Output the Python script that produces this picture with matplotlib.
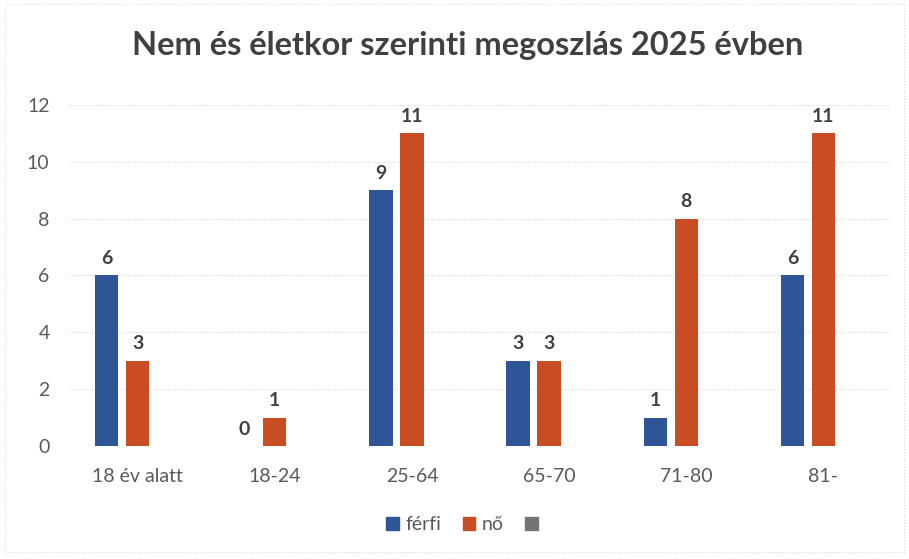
import numpy as np
import matplotlib.pyplot as plt
from matplotlib.patches import Rectangle

# ── data ────────────────────────────────────────────────────────────────
categories = ["18 év alatt", "18-24", "25-64", "65-70", "71-80", "81-"]
ferfi = [6, 0, 9, 3, 1, 6]
no = [3, 1, 11, 3, 8, 11]
harmadik = [np.nan] * 6          # empty third series (gray in legend)
series_names = ["férfi", "nő", ""]

BLUE = "#2f5597"
ORANGE = "#c94c22"
GRAY = "#737373"
TEXT = "#595959"

plt.rcParams["font.family"] = ["Lato", "DejaVu Sans"]

fig = plt.figure(figsize=(9.09, 5.59), dpi=100)
ax = fig.add_axes([0.0759, 0.2022, 0.9054, 0.6100])

x = np.arange(len(categories))
w = 0.17
off = 0.226
b1 = ax.bar(x - off, ferfi, w, color=BLUE, zorder=3)
b2 = ax.bar(x, no, w, color=ORANGE, zorder=3)
b3 = ax.bar(x + off, harmadik, w, color=GRAY, zorder=3)

for bars, vals in ((b1, ferfi), (b2, no)):
    for r, v in zip(bars, vals):
        ax.annotate(str(v), (r.get_x() + r.get_width() / 2, v), xytext=(0, 6),
                    textcoords="offset points", ha="center", va="bottom",
                    fontsize=14, fontweight="bold", color="#404040")

ax.set_xlim(-0.5, len(categories) - 0.5)
ax.set_ylim(0, 12)
ax.set_yticks(range(0, 13, 2))
ax.set_xticks(x)
ax.set_xticklabels(categories)
ax.tick_params(axis="both", length=0, labelsize=14, labelcolor=TEXT)
ax.tick_params(axis="y", pad=14)
ax.tick_params(axis="x", pad=16)
ax.grid(axis="y", color="#d9d9d9", linestyle=(0, (1, 1.5)), linewidth=0.8, zorder=0)
for s in ax.spines.values():
    s.set_visible(False)

fig.text(0.514, 0.918, "Nem és életkor szerinti megoszlás 2025 évben",
         ha="center", va="center", fontsize=23.5, fontweight="bold", color="#404040")

# legend including the unlabeled gray series
handles = [Rectangle((0, 0), 1, 1, color=BLUE),
           Rectangle((0, 0), 1, 1, color=ORANGE),
           Rectangle((0, 0), 1, 1, color=GRAY)]
fig.legend(handles, series_names, loc="center", bbox_to_anchor=(0.512, 0.062), ncol=3,
           frameon=False, fontsize=14, handlelength=0.65, handleheight=0.65,
           handletextpad=0.35, columnspacing=1.1, labelcolor=TEXT)

fig.add_artist(Rectangle((0.005, 0.012), 0.99, 0.98, transform=fig.transFigure,
                         fill=False, edgecolor="#dcdcdc", linewidth=0.8, linestyle=":"))

fig.savefig("out.png", dpi=100)
